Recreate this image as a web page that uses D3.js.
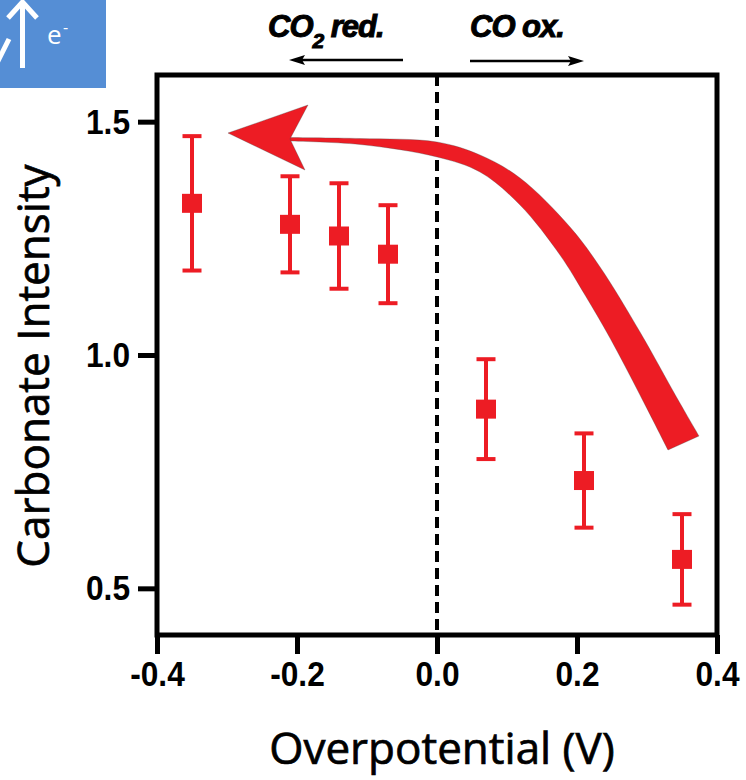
<!DOCTYPE html>
<html><head><meta charset="utf-8">
<script src="https://cdn.jsdelivr.net/npm/d3@7"></script>
<style>
html,body{margin:0;padding:0;background:#fff;}
svg{display:block;}
</style></head>
<body>
<svg id="chart" width="746" height="780"></svg>
<script>
// ---- data ----
const overpotential = [-0.35, -0.21, -0.14, -0.07, 0.07, 0.21, 0.35];
const intensity     = [1.325, 1.280, 1.255, 1.216, 0.884, 0.731, 0.562];
const errorBar      = [0.144, 0.103, 0.113, 0.105, 0.107, 0.101, 0.097];
const xTicks = [-0.4, -0.2, 0.0, 0.2, 0.4];
const xTickLabels = ["-0.4", "-0.2", "0.0", "0.2", "0.4"];
const yTicks = [0.5, 1.0, 1.5];
const yTickLabels = ["0.5", "1.0", "1.5"];
const xDomain = [-0.4, 0.4];
const yDomain = [0.4, 1.6];
const xTitle = "Overpotential (V)";
const yTitle = "Carbonate Intensity";
// trend arrow (annotation) outline in data units
const arrowHead = [[-0.2986,1.4757],[-0.1843,1.5357],[-0.2100,1.4629],[-0.1886,1.3964]];
const arrowOuter = [[-0.2157,1.4661],[-0.1100,1.4639],[0,1.4564],[0.0614,1.4286],[0.1186,1.3793],[0.1900,1.2743],[0.2329,1.1886],[0.2900,1.0493],[0.3429,0.9079],[0.3743,0.8264]];
const arrowInner = [[0.3300,0.7964],[0.2900,0.9143],[0.2471,1.0364],[0.2114,1.1286],[0.1757,1.2143],[0.1186,1.3214],[0.0614,1.3921],[0,1.4243],[-0.1100,1.4511],[-0.2157,1.4586]];

const RED = "#ed1c24";
const svg = d3.select("#chart");
const m = {left:157, right:29, top:75, bottom:145};
const W = 746, H = 780;
const x = d3.scaleLinear().domain(xDomain).range([m.left, W - m.right]);
const y = d3.scaleLinear().domain(yDomain).range([H - m.bottom, m.top]);

const tickFont = "'Liberation Sans',Arial,sans-serif";
const labelFont = "'Open Sans','Noto Sans',sans-serif";
const SX = 0.88; // horizontal condensing of tick labels

// axes
const xAxis = d3.axisBottom(x).tickValues(xTicks).tickFormat((d,i)=>xTickLabels[i]).tickSize(19).tickPadding(6);
const gx = svg.append("g").attr("transform",`translate(0,${y(yDomain[0])})`).call(xAxis);
gx.select(".domain").remove();
gx.selectAll(".tick line").attr("stroke","#000").attr("stroke-width",5);
gx.selectAll(".tick text").attr("fill","#000").style("font-family",tickFont).style("font-weight","bold").style("font-size","36px")
  .attr("transform",`scale(${SX},1)`);

const yAxis = d3.axisLeft(y).tickValues(yTicks).tickFormat((d,i)=>yTickLabels[i]).tickSize(19).tickPadding(8);
const gy = svg.append("g").attr("transform",`translate(${x(xDomain[0])},0)`).call(yAxis);
gy.select(".domain").remove();
gy.selectAll(".tick line").attr("stroke","#000").attr("stroke-width",5);
gy.selectAll(".tick text").attr("fill","#000").style("font-family",tickFont).style("font-weight","bold").style("font-size","36px")
  .attr("x",-27/SX).attr("transform",`scale(${SX},1)`);

// frame
svg.append("rect").attr("x",x(xDomain[0])).attr("y",y(yDomain[1]))
  .attr("width",x(xDomain[1])-x(xDomain[0])).attr("height",y(yDomain[0])-y(yDomain[1]))
  .attr("fill","none").attr("stroke","#000").attr("stroke-width",5);

// dashed zero line
svg.append("line").attr("x1",x(0)).attr("x2",x(0)).attr("y1",y(yDomain[1])).attr("y2",y(yDomain[0]))
  .attr("stroke","#000").attr("stroke-width",4).attr("stroke-dasharray","11,6");

// trend arrow
const lineGen = d3.line().x(d=>x(d[0])).y(d=>y(d[1])).curve(d3.curveCatmullRom);
const outerPath = lineGen(arrowOuter);
const innerPath = lineGen(arrowInner).replace(/^M/,"L");
svg.append("path").attr("d", outerPath + innerPath + "Z").attr("fill",RED)
  .attr("stroke","#3a4a4a").attr("stroke-width",0.6).attr("stroke-opacity",0.5);
svg.append("path").attr("d", d3.line().x(d=>x(d[0])).y(d=>y(d[1]))(arrowHead) + "Z").attr("fill",RED)
  .attr("stroke","#3a4a4a").attr("stroke-width",0.6).attr("stroke-opacity",0.5);

// error bars and markers
const pts = overpotential.map((v,i)=>({x:v, y:intensity[i], e:errorBar[i]}));
const g = svg.append("g");
pts.forEach(p=>{
  g.append("line").attr("x1",x(p.x)).attr("x2",x(p.x)).attr("y1",y(p.y+p.e)).attr("y2",y(p.y-p.e))
    .attr("stroke",RED).attr("stroke-width",4);
  [p.y+p.e, p.y-p.e].forEach(v=>{
    g.append("line").attr("x1",x(p.x)-9.5).attr("x2",x(p.x)+9.5).attr("y1",y(v)).attr("y2",y(v))
      .attr("stroke",RED).attr("stroke-width",4);
  });
  g.append("rect").attr("x",x(p.x)-10).attr("y",y(p.y)-9.5).attr("width",20).attr("height",19).attr("fill",RED);
});

// axis titles
svg.append("text").attr("x",442).attr("y",764).attr("text-anchor","middle")
  .style("font-family",labelFont).style("font-size","44px").attr("fill","#000")
  .attr("stroke","#000").attr("stroke-width",0.7).text(xTitle);
svg.append("text").attr("transform",`translate(49,366) rotate(-90)`).attr("text-anchor","middle")
  .style("font-family",labelFont).style("font-size","44px").attr("fill","#000")
  .attr("stroke","#000").attr("stroke-width",0.7).text(yTitle);

// top annotations
const annFont = "'Liberation Sans','Open Sans',sans-serif";
const t1 = svg.append("text").attr("x",268).attr("y",37).style("font-family",annFont).style("font-weight","bold")
  .style("font-style","italic").style("font-size","31px").attr("fill","#000").attr("stroke","#000").attr("stroke-width",1)
  .attr("letter-spacing","-1");
t1.append("tspan").text("CO");
t1.append("tspan").attr("dy",11).style("font-size","21px").text("2");
t1.append("tspan").attr("dy",-11).text(" red.");
svg.append("text").attr("x",470).attr("y",37).style("font-family",annFont).style("font-weight","bold")
  .style("font-style","italic").style("font-size","31px").attr("fill","#000").attr("stroke","#000").attr("stroke-width",1)
  .attr("letter-spacing","-1").text("CO ox.");
// small arrows
svg.append("line").attr("x1",403).attr("x2",300).attr("y1",60).attr("y2",60).attr("stroke","#000").attr("stroke-width",2.5);
svg.append("path").attr("d","M289,60 L305,55 L302,60 L305,65 Z").attr("fill","#000");
svg.append("line").attr("x1",470).attr("x2",573).attr("y1",61).attr("y2",61).attr("stroke","#000").attr("stroke-width",2.5);
svg.append("path").attr("d","M584,61 L568,56 L571,61 L568,66 Z").attr("fill","#000");

// blue inset box (top-left)
const inset = svg.append("g");
inset.append("rect").attr("x",0).attr("y",0).attr("width",106).attr("height",88).attr("fill","#558ed5");
inset.append("line").attr("x1",22.5).attr("x2",22.5).attr("y1",68).attr("y2",3).attr("stroke","#fff").attr("stroke-width",5);
inset.append("polyline").attr("points","8,18 22.5,2 37,18").attr("fill","none").attr("stroke","#fff").attr("stroke-width",5);
inset.append("line").attr("x1",9).attr("x2",-3).attr("y1",39).attr("y2",63).attr("stroke","#fff").attr("stroke-width",5);
inset.append("text").attr("x",47).attr("y",44).style("font-family","'Open Sans',sans-serif").style("font-size","26px").attr("fill","#fff").text("e");
inset.append("text").attr("x",63).attr("y",33).style("font-family","'Open Sans',sans-serif").style("font-size","16px").attr("fill","#fff").text("-");
</script>
</body></html>
